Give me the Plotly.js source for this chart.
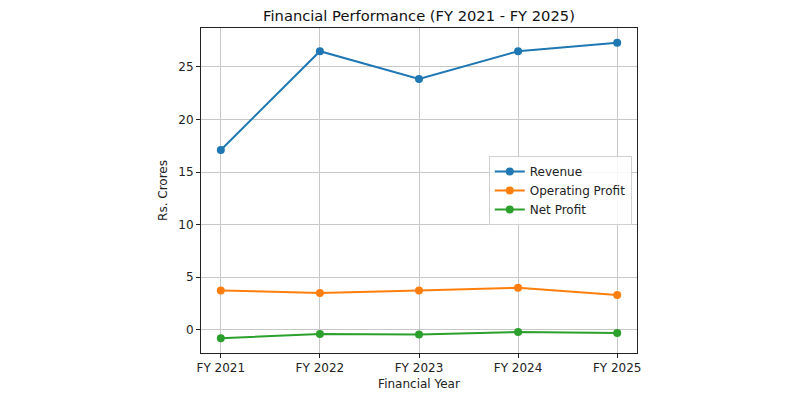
<!DOCTYPE html>
<html>
<head>
<meta charset="utf-8">
<script src="https://cdn.plot.ly/plotly-3.0.1.min.js"></script>
<style>
  html, body { margin: 0; padding: 0; background: #fff; }
  #chart { width: 800px; height: 400px; }
</style>
</head>
<body>
<div id="chart"></div>
<script>
// Financial years on the x axis
const years = ["FY 2021", "FY 2022", "FY 2023", "FY 2024", "FY 2025"];

// Figures in Rs. Crores
const revenue = [17.1, 26.5, 23.85, 26.5, 27.3];
const operatingProfit = [3.75, 3.5, 3.75, 4.0, 3.3];
const netProfit = [-0.8, -0.4, -0.45, -0.2, -0.3];

const seriesNames = ["Revenue", "Operating Profit", "Net Profit"];
const seriesColors = ["#1f77b4", "#ff7f0e", "#2ca02c"];
const seriesValues = [revenue, operatingProfit, netProfit];

const xIdx = years.map((_, i) => i);

const traces = seriesValues.map((vals, k) => ({
  type: "scatter",
  mode: "lines+markers",
  name: seriesNames[k],
  x: xIdx,
  y: vals,
  line: { color: seriesColors[k], width: 2 },
  marker: { color: seriesColors[k], size: 8 }
}));

// y range padded by 5% of the data span on each side
const all = [].concat(revenue, operatingProfit, netProfit);
const lo = Math.min(...all), hi = Math.max(...all);
const pad = (hi - lo) * 0.05;

const font = "DejaVu Sans, sans-serif";

const layout = {
  width: 800,
  height: 400,
  paper_bgcolor: "#fff",
  plot_bgcolor: "#fff",
  margin: { l: 201, r: 163, t: 28, b: 47 },
  font: { family: font, size: 12, color: "#222" },
  title: {
    text: "Financial Performance (FY 2021 - FY 2025)",
    font: { family: font, size: 14.7, color: "#111" },
    xref: "paper", x: 0.5, xanchor: "center",
    yref: "container", y: 0.96, yanchor: "middle"
  },
  xaxis: {
    range: [-0.2, 4.2],
    tickvals: xIdx,
    ticktext: years,
    showgrid: true,
    gridcolor: "#c8c8c8",
    gridwidth: 1,
    zeroline: false,
    showline: true,
    linecolor: "#222",
    linewidth: 1,
    mirror: true,
    ticks: "outside",
    ticklen: 4,
    tickcolor: "#222",
    tickfont: { family: font, size: 12, color: "#222" },
    title: { text: "Financial Year", font: { family: font, size: 12, color: "#222" }, standoff: 5 }
  },
  yaxis: {
    range: [lo - pad, hi + pad],
    tickvals: [0, 5, 10, 15, 20, 25],
    showgrid: true,
    gridcolor: "#c8c8c8",
    gridwidth: 1,
    zeroline: false,
    showline: true,
    linecolor: "#222",
    linewidth: 1,
    mirror: true,
    ticks: "outside",
    ticklen: 4,
    tickcolor: "#222",
    tickfont: { family: font, size: 12, color: "#222" },
    title: { text: "Rs. Crores", font: { family: font, size: 12, color: "#222" }, standoff: 8 }
  },
  showlegend: true,
  legend: {
    x: 0.66, xanchor: "left",
    y: 0.606, yanchor: "top",
    bgcolor: "rgba(255,255,255,0.85)",
    bordercolor: "#d0d0d0",
    borderwidth: 1,
    font: { family: font, size: 12, color: "#222" },
    tracegroupgap: 0
  }
};

Plotly.newPlot("chart", traces, layout, { displayModeBar: false, staticPlot: true });
</script>
</body>
</html>
